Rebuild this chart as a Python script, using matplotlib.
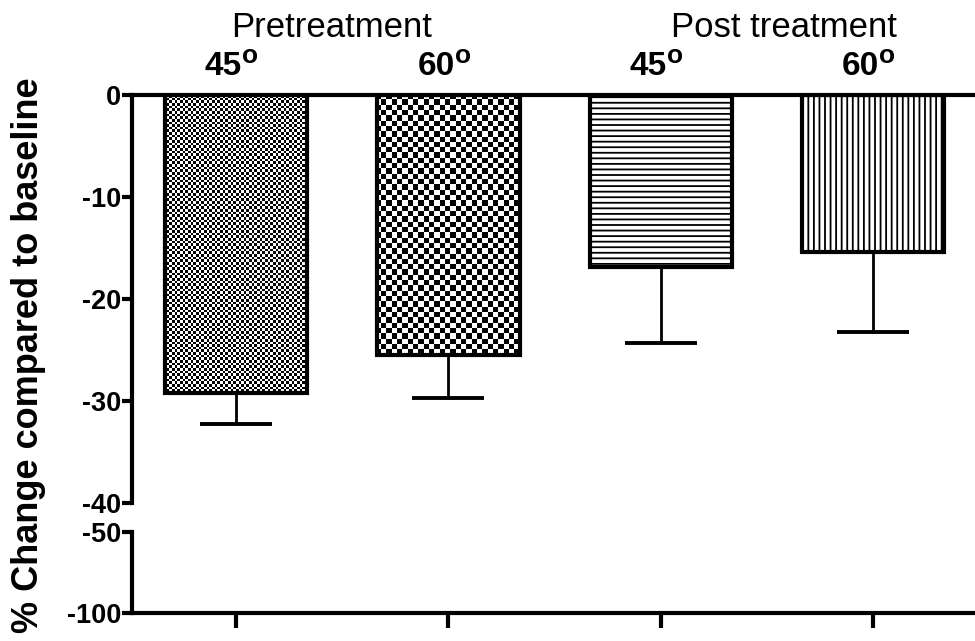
import numpy as np
import matplotlib
matplotlib.use("Agg")
import matplotlib.pyplot as plt
from matplotlib.transforms import offset_copy

plt.rcParams['font.family'] = ['Liberation Sans', 'DejaVu Sans']
plt.rcParams['hatch.linewidth'] = 1.3

# data
groups = ['Pretreatment', 'Post treatment']
angles = ['45', '60', '45', '60']
change = [-29.2, -25.5, -16.9, -15.4]
sem = [3.1, 4.2, 7.4, 7.8]
upper_ticks = [0, -10, -20, -30, -40]
lower_ticks = [-50, -100]

x = np.arange(len(change))
width = 0.67
lw = 3

fig = plt.figure(figsize=(9.75, 6.41), dpi=100)
ax = fig.add_axes([0.1354, 0.2153, 0.8646, 0.6365])
axb = fig.add_axes([0.1354, 0.0437, 0.8646, 0.1264])

xlim = (-0.49, 3.48)
ax.set_xlim(*xlim)
ax.set_ylim(-40, 0)
axb.set_xlim(*xlim)
axb.set_ylim(-100, -50)

# bars: white face, pattern on top, black outline last
faces = ax.bar(x, change, width, color='white', edgecolor='none', zorder=1)
fig.canvas.draw()
w_px = ax.get_window_extent().width
h_px = ax.get_window_extent().height


def checker(bar, cell_px):
    nx = int(round(w_px / cell_px))
    ny = int(round(h_px / cell_px))
    arr = np.add.outer(np.arange(ny), np.arange(nx)) % 2
    im = ax.imshow(arr, cmap='gray', extent=(*xlim, -40, 0), aspect='auto',
                   interpolation='nearest', zorder=1.5)
    im.set_clip_path(bar)


checker(faces[0], 2.65)
checker(faces[1], 5.3)

hatches = ['', '', '---', '|||']
for xi, val, h in zip(x, change, hatches):
    ax.bar(xi, val, width, fill=False, edgecolor='black', linewidth=lw,
           hatch=h, zorder=3)

ax.errorbar(x, change, yerr=[sem, np.zeros(len(sem))], fmt='none',
            ecolor='black', elinewidth=2, capsize=26, capthick=2.8, zorder=2)
ax.set_xlim(*xlim)
ax.set_ylim(-40, 0)

# broken axis styling
for a in (ax, axb):
    a.spines['right'].set_visible(False)
    a.spines['left'].set_linewidth(lw)
    a.tick_params(axis='y', length=7, width=lw, labelsize=19.5, pad=1)
ax.spines['bottom'].set_visible(False)
ax.spines['top'].set_linewidth(lw)
ax.set_xticks([])
ax.set_yticks(upper_ticks)
ax.set_yticklabels([str(v) for v in upper_ticks], fontweight='bold')

axb.spines['top'].set_visible(False)
axb.spines['bottom'].set_linewidth(lw)
axb.set_yticks(lower_ticks)
axb.set_yticklabels([str(v) for v in lower_ticks], fontweight='bold')
axb.set_xticks(x)
axb.set_xticklabels([])
axb.tick_params(axis='x', length=11, width=lw)

# angle labels above the bars, degree drawn as a raised "o"
for xi, a in zip(x, angles):
    base = offset_copy(ax.transData, fig=fig, x=-9, y=0, units='points')
    ax.text(xi, 2.0, a, ha='center', va='baseline', fontsize=24,
            fontweight='bold', clip_on=False, transform=base)
    deg = offset_copy(ax.transData, fig=fig, x=4.5, y=8.5, units='points')
    ax.text(xi, 2.0, 'o', ha='left', va='baseline', fontsize=19,
            fontweight='bold', clip_on=False, transform=deg)

ax.text(0.45, 5.7, groups[0], ha='center', va='baseline', fontsize=25,
        clip_on=False)
ax.text(2.58, 5.7, groups[1], ha='center', va='baseline', fontsize=25,
        clip_on=False)

fig.text(0.029, 0.446, '% Change compared to baseline', rotation=90,
         ha='center', va='center', fontsize=26, fontweight='bold')

fig.savefig('out.png', dpi=100)
